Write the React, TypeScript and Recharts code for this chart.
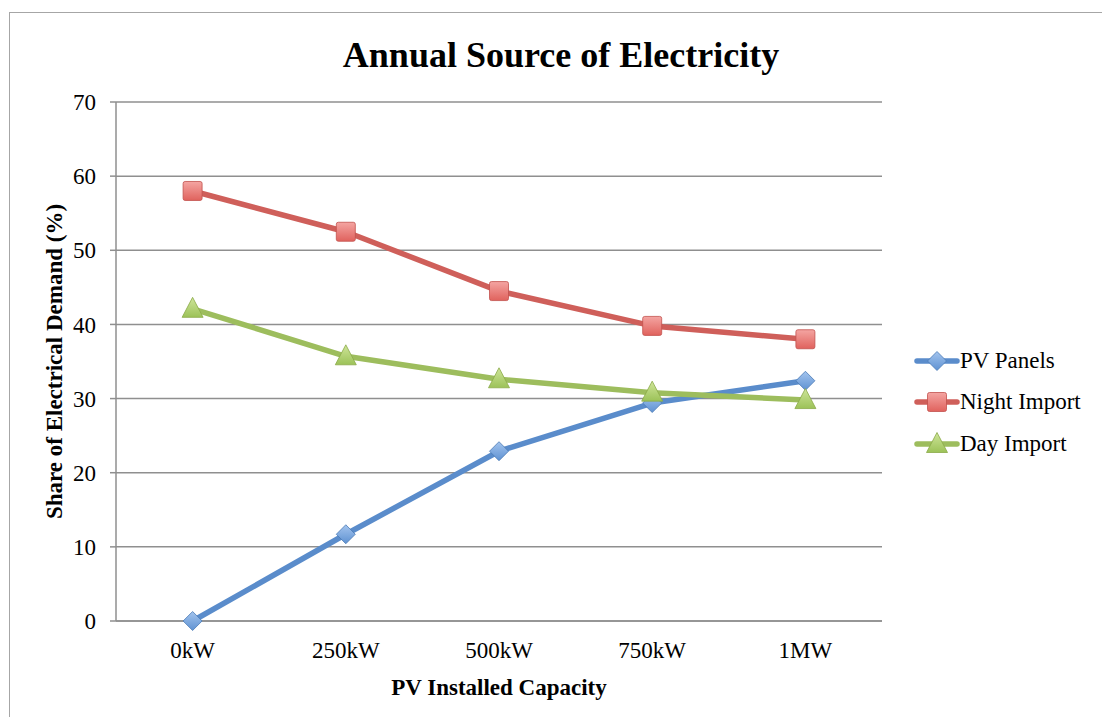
import { CartesianGrid, Line, LineChart, XAxis, YAxis } from "recharts";

const capacities = ["0kW", "250kW", "500kW", "750kW", "1MW"];
const pvPanels = [0, 11.7, 22.9, 29.4, 32.4];
const nightImport = [58.0, 52.5, 44.5, 39.8, 38.0];
const dayImport = [42.1, 35.7, 32.6, 30.8, 29.8];
const yTicks = [0, 10, 20, 30, 40, 50, 60, 70];

const data = capacities.map((name, i) => ({
  name,
  pv: pvPanels[i],
  night: nightImport[i],
  day: dayImport[i],
}));

const FONT = "'Liberation Serif', 'Times New Roman', serif";
const TEXT_SIZE = 23;

const series = [
  { key: "pv", label: "PV Panels", stroke: "#5a8ccb", fill: "url(#gradPv)", edge: "#4a7ab5", shape: "diamond" },
  { key: "night", label: "Night Import", stroke: "#cf5f5a", fill: "url(#gradNight)", edge: "#c2504d", shape: "square" },
  { key: "day", label: "Day Import", stroke: "#9dbd5d", fill: "url(#gradDay)", edge: "#8aaa48", shape: "triangle" },
];

function Gradients() {
  return (
    <defs>
      <linearGradient id="gradPv" x1="0" y1="0" x2="0" y2="1">
        <stop offset="0%" stopColor="#a3c4ee" />
        <stop offset="100%" stopColor="#5f92d2" />
      </linearGradient>
      <linearGradient id="gradNight" x1="0" y1="0" x2="0" y2="1">
        <stop offset="0%" stopColor="#f4a5a2" />
        <stop offset="100%" stopColor="#e0625d" />
      </linearGradient>
      <linearGradient id="gradDay" x1="0" y1="0" x2="0" y2="1">
        <stop offset="0%" stopColor="#cfe59a" />
        <stop offset="100%" stopColor="#9cc258" />
      </linearGradient>
    </defs>
  );
}

function Marker({ cx, cy, shape, fill, edge }: any) {
  if (cx == null || cy == null) return null;
  if (shape === "diamond") {
    const r = 9.5;
    return (
      <polygon
        points={`${cx},${cy - r} ${cx + r},${cy} ${cx},${cy + r} ${cx - r},${cy}`}
        fill={fill}
        stroke={edge}
        strokeWidth={0.8}
      />
    );
  }
  if (shape === "square") {
    const s = 9.5;
    return <rect x={cx - s} y={cy - s} width={s * 2} height={s * 2} rx={2} fill={fill} stroke={edge} strokeWidth={0.8} />;
  }
  const r = 10.5;
  return (
    <polygon
      points={`${cx},${cy - r - 1} ${cx + r},${cy + r - 2} ${cx - r},${cy + r - 2}`}
      fill={fill}
      stroke={edge}
      strokeWidth={0.8}
      strokeLinejoin="round"
    />
  );
}

// legend sits to the right of the plot, drawn as plain html
function LegendBox() {
  return (
    <div style={{ position: "absolute", left: 913, top: 340, fontFamily: FONT, fontSize: TEXT_SIZE, color: "#000" }}>
      {series.map((s) => (
        <div key={s.key} style={{ display: "flex", alignItems: "center", height: 41.5 }}>
          <svg width={47} height={24}>
            <Gradients />
            <line x1={4} y1={12} x2={44} y2={12} stroke={s.stroke} strokeWidth={5.5} strokeLinecap="round" />
            <Marker cx={24} cy={12} shape={s.shape} fill={s.fill} edge={s.edge} />
          </svg>
          <span>{s.label}</span>
        </div>
      ))}
    </div>
  );
}

export default function App() {
  return (
    <div style={{ position: "absolute", left: 0, top: 0, width: 1102, height: 717, background: "#fff", overflow: "hidden" }}>
      <div
        style={{
          position: "absolute",
          left: 9,
          top: 12,
          width: 1093,
          height: 705,
          borderLeft: "1.5px solid #a6a6a6",
          borderTop: "1.5px solid #a6a6a6",
          boxSizing: "border-box",
        }}
      />
      <div
        style={{
          position: "absolute",
          left: 0,
          width: 1122,
          top: 34,
          textAlign: "center",
          fontFamily: FONT,
          fontWeight: "bold",
          fontSize: 36,
          color: "#000",
        }}
      >
        Annual Source of Electricity
      </div>
      <LineChart
        width={1102}
        height={717}
        data={data}
        margin={{ top: 102, right: 220, bottom: 0, left: 0 }}
        style={{ position: "absolute", left: 0, top: 0 }}
      >
        <Gradients />
        <CartesianGrid vertical={false} stroke="#8f8f8f" strokeWidth={1.5} />
        <XAxis
          dataKey="name"
          scale="band"
          height={96}
          axisLine={{ stroke: "#8f8f8f", strokeWidth: 1.5 }}
          tickLine={false}
          tick={{ fontFamily: FONT, fontSize: TEXT_SIZE, fill: "#000" }}
          tickMargin={15}
          label={{
            value: "PV Installed Capacity",
            position: "insideBottom",
            offset: 22,
            style: { fontFamily: FONT, fontSize: TEXT_SIZE, fontWeight: "bold", fill: "#000" },
          }}
        />
        <YAxis
          width={116}
          domain={[0, 70]}
          ticks={yTicks}
          interval={0}
          axisLine={{ stroke: "#8f8f8f", strokeWidth: 1.5 }}
          tickLine={{ stroke: "#8f8f8f", strokeWidth: 1.5 }}
          tickSize={6}
          tickMargin={14}
          tick={{ fontFamily: FONT, fontSize: TEXT_SIZE, fill: "#000" }}
          label={{
            value: "Share of Electrical Demand (%)",
            angle: -90,
            position: "insideLeft",
            offset: 54,
            style: { textAnchor: "middle", fontFamily: FONT, fontSize: TEXT_SIZE, fontWeight: "bold", fill: "#000" },
          }}
        />
        {series.map((s) => (
          <Line
            key={s.key}
            dataKey={s.key}
            name={s.label}
            stroke={s.stroke}
            strokeWidth={5.5}
            strokeLinejoin="round"
            isAnimationActive={false}
            dot={(p: any) => <Marker key={`${s.key}-${p.index}`} cx={p.cx} cy={p.cy} shape={s.shape} fill={s.fill} edge={s.edge} />}
            activeDot={false}
          />
        ))}
      </LineChart>
      <LegendBox />
    </div>
  );
}
